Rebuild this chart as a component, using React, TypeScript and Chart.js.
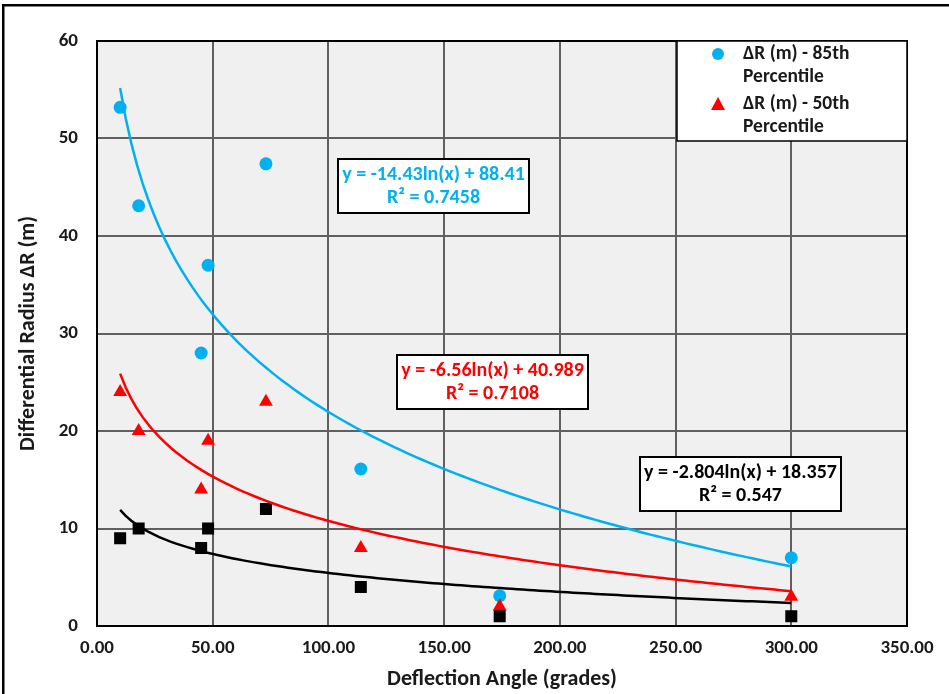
import React, { useEffect, useRef } from 'react';
import { Chart, registerables } from 'chart.js';

Chart.register(...registerables);

const FONT = "Carlito, Lato, 'Liberation Sans', sans-serif";

// Axis ticks
const xTickValues = [0, 50, 100, 150, 200, 250, 300, 350];
const yTickValues = [0, 10, 20, 30, 40, 50, 60];

// Data
const angle85 = [10, 18, 48, 45, 73, 114, 174, 300];
const deltaR85 = [53.2, 43.1, 37.0, 28.0, 47.4, 16.1, 3.1, 7.0];
const angle50 = [10, 18, 48, 45, 73, 114, 174, 300];
const deltaR50 = [24, 20, 19, 14, 23, 8, 2, 3];
const angleLow = [10, 18, 45, 48, 73, 114, 174, 300];
const deltaRLow = [9, 10, 8, 10, 12, 4, 1, 1];

// Logarithmic trend lines shown on the chart: y = slope*ln(x) + intercept
const fit85 = { slope: -14.43, intercept: 88.41 };
const fit50 = { slope: -6.56, intercept: 40.989 };
const fitLow = { slope: -2.804, intercept: 18.357 };

const eq85 = ['y = -14.43ln(x) + 88.41', 'R² = 0.7458'];
const eq50 = ['y = -6.56ln(x) + 40.989', 'R² = 0.7108'];
const eqLow = ['y = -2.804ln(x) + 18.357', 'R² = 0.547'];

const legendLabels85 = ['ΔR (m) - 85th', 'Percentile'];
const legendLabels50 = ['ΔR (m) - 50th', 'Percentile'];

const BLUE = '#00B0F0';
const RED = '#FF0000';
const BLACK = '#000000';

function pts(xs: number[], ys: number[]) {
  return xs.map((x, i) => ({ x, y: ys[i] }));
}

function trend(fit: { slope: number; intercept: number }, xs: number[]) {
  const lo = Math.min(...xs);
  const hi = Math.max(...xs);
  const out: { x: number; y: number }[] = [];
  const n = 120;
  for (let i = 0; i <= n; i++) {
    const x = lo + ((hi - lo) * i) / n;
    out.push({ x, y: fit.slope * Math.log(x) + fit.intercept });
  }
  return out;
}

// equation label boxes: anchor (data coords of box centre), box size in px
const eqBoxes = [
  { lines: eq85, color: BLUE, cx: 145.2, cy: 45.1, w: 191, h: 54 },
  { lines: eq50, color: RED, cx: 170.7, cy: 25.0, w: 191, h: 54 },
  { lines: eqLow, color: BLACK, cx: 278.2, cy: 14.6, w: 201, h: 54 },
];

const decorPlugin = {
  id: 'decor',
  beforeDraw(chart: any) {
    const { ctx, chartArea: a } = chart;
    ctx.save();
    ctx.fillStyle = '#ffffff';
    ctx.fillRect(0, 0, chart.width, chart.height);
    ctx.fillStyle = '#F0F0F0';
    ctx.fillRect(a.left, a.top, a.right - a.left, a.bottom - a.top);
    ctx.restore();
  },
  afterDraw(chart: any) {
    const { ctx, chartArea: a, scales } = chart;
    const xs = scales.x;
    const ys = scales.y;
    ctx.save();
    // plot outline
    ctx.strokeStyle = '#000';
    ctx.lineWidth = 2;
    ctx.strokeRect(a.left, a.top, a.right - a.left, a.bottom - a.top);

    // equation boxes
    ctx.font = `bold 20px ${FONT}`;
    ctx.textAlign = 'center';
    ctx.textBaseline = 'middle';
    for (const b of eqBoxes) {
      const px = xs.getPixelForValue(b.cx);
      const py = ys.getPixelForValue(b.cy);
      const left = Math.round(px - b.w / 2);
      const top = Math.round(py - b.h / 2);
      ctx.fillStyle = '#fff';
      ctx.fillRect(left, top, b.w, b.h);
      ctx.strokeStyle = '#000';
      ctx.lineWidth = 2;
      ctx.strokeRect(left, top, b.w, b.h);
      ctx.fillStyle = b.color;
      ctx.fillText(b.lines[0], left + b.w / 2, top + 16);
      ctx.fillText(b.lines[1], left + b.w / 2, top + 39);
    }

    // legend
    const lw = 230;
    const lh = 100;
    const lx = a.right - lw;
    const ly = a.top;
    ctx.fillStyle = '#fff';
    ctx.fillRect(lx, ly, lw, lh);
    ctx.strokeStyle = '#000';
    ctx.lineWidth = 1.5;
    ctx.strokeRect(lx, ly, lw, lh);
    const mx = lx + 41;
    const tx = lx + 66;
    // circle
    ctx.fillStyle = BLUE;
    ctx.beginPath();
    ctx.arc(mx, ly + 13, 6, 0, Math.PI * 2);
    ctx.fill();
    // triangle
    ctx.fillStyle = RED;
    ctx.beginPath();
    ctx.moveTo(mx, ly + 56);
    ctx.lineTo(mx + 7, ly + 69);
    ctx.lineTo(mx - 7, ly + 69);
    ctx.closePath();
    ctx.fill();
    ctx.fillStyle = '#1a1a1a';
    ctx.font = `bold 19.5px ${FONT}`;
    ctx.textAlign = 'left';
    ctx.textBaseline = 'middle';
    ctx.fillText(legendLabels85[0], tx, ly + 13);
    ctx.fillText(legendLabels85[1], tx, ly + 36);
    ctx.fillText(legendLabels50[0], tx, ly + 63);
    ctx.fillText(legendLabels50[1], tx, ly + 86);

    // outer frame
    ctx.fillStyle = '#000';
    ctx.fillRect(2, 4, chart.width, 2.5);
    ctx.fillRect(2, 4, 2.5, chart.height);
    ctx.restore();
  },
};

export default function App() {
  const ref = useRef<HTMLCanvasElement | null>(null);
  useEffect(() => {
    document.body.style.margin = '0';
    const canvas = ref.current;
    if (!canvas) return;
    const chart = new Chart(canvas, {
      type: 'scatter',
      data: {
        datasets: [
          {
            label: 'Trend 85th',
            data: trend(fit85, angle85),
            showLine: true,
            borderColor: BLUE,
            borderWidth: 2.5,
            pointRadius: 0,
            fill: false,
            order: 0,
          },
          {
            label: 'Trend 50th',
            data: trend(fit50, angle50),
            showLine: true,
            borderColor: RED,
            borderWidth: 2.5,
            pointRadius: 0,
            fill: false,
            order: 0,
          },
          {
            label: 'Trend low',
            data: trend(fitLow, angleLow),
            showLine: true,
            borderColor: BLACK,
            borderWidth: 2.5,
            pointRadius: 0,
            fill: false,
            order: 0,
          },
          {
            label: 'ΔR (m) - other',
            data: pts(angleLow, deltaRLow),
            pointStyle: 'rect',
            pointRadius: 8.5,
            backgroundColor: BLACK,
            borderColor: BLACK,
            borderWidth: 0,
            order: 1,
          },
          {
            label: 'ΔR (m) - 50th Percentile',
            data: pts(angle50, deltaR50),
            pointStyle: 'triangle',
            pointRadius: 8,
            backgroundColor: RED,
            borderColor: RED,
            borderWidth: 0,
            order: 2,
          },
          {
            label: 'ΔR (m) - 85th Percentile',
            data: pts(angle85, deltaR85),
            pointStyle: 'circle',
            pointRadius: 6.5,
            backgroundColor: BLUE,
            borderColor: BLUE,
            borderWidth: 0,
            order: 3,
          },
        ],
      },
      options: {
        animation: false,
        responsive: false,
        maintainAspectRatio: false,
        layout: { padding: { left: 0, top: 41, right: 42, bottom: 0 } },
        plugins: {
          legend: { display: false },
          tooltip: { enabled: false },
        },
        scales: {
          x: {
            type: 'linear',
            min: 0,
            max: 350,
            afterBuildTicks: (s: any) => {
              s.ticks = xTickValues.map((v) => ({ value: v }));
            },
            afterFit: (s: any) => {
              s.height = 68;
            },
            ticks: {
              callback: (v: any) => Number(v).toFixed(2),
              font: { family: FONT, size: 19, weight: 'bold' },
              color: '#1a1a1a',
              padding: 11,
              maxRotation: 0,
              autoSkip: false,
            },
            grid: {
              color: '#606060',
              lineWidth: 2,
              drawTicks: false,
            },
            border: { display: true, color: '#000', width: 2 },
            title: {
              display: true,
              text: 'Deflection Angle (grades)',
              font: { family: FONT, size: 22, weight: 'bold' },
              color: '#1a1a1a',
              padding: { top: 0, bottom: 1 },
            },
          },
          y: {
            type: 'linear',
            min: 0,
            max: 60,
            afterBuildTicks: (s: any) => {
              s.ticks = yTickValues.map((v) => ({ value: v }));
            },
            afterFit: (s: any) => {
              s.width = 97;
            },
            ticks: {
              font: { family: FONT, size: 19, weight: 'bold' },
              color: '#1a1a1a',
              padding: 19,
              autoSkip: false,
            },
            grid: {
              color: '#606060',
              lineWidth: 2,
              drawTicks: false,
            },
            border: { display: true, color: '#000', width: 2 },
            title: {
              display: true,
              text: 'Differential Radius ΔR (m)',
              font: { family: FONT, size: 22, weight: 'bold' },
              color: '#1a1a1a',
              padding: { top: 15, bottom: 0 },
            },
          },
        },
      },
      plugins: [decorPlugin],
    } as any);
    return () => chart.destroy();
  }, []);
  return (
    <div style={{ position: 'relative', width: 949, height: 694 }}>
      <canvas ref={ref} width={949} height={694} style={{ display: 'block', width: 949, height: 694 }} />
    </div>
  );
}
